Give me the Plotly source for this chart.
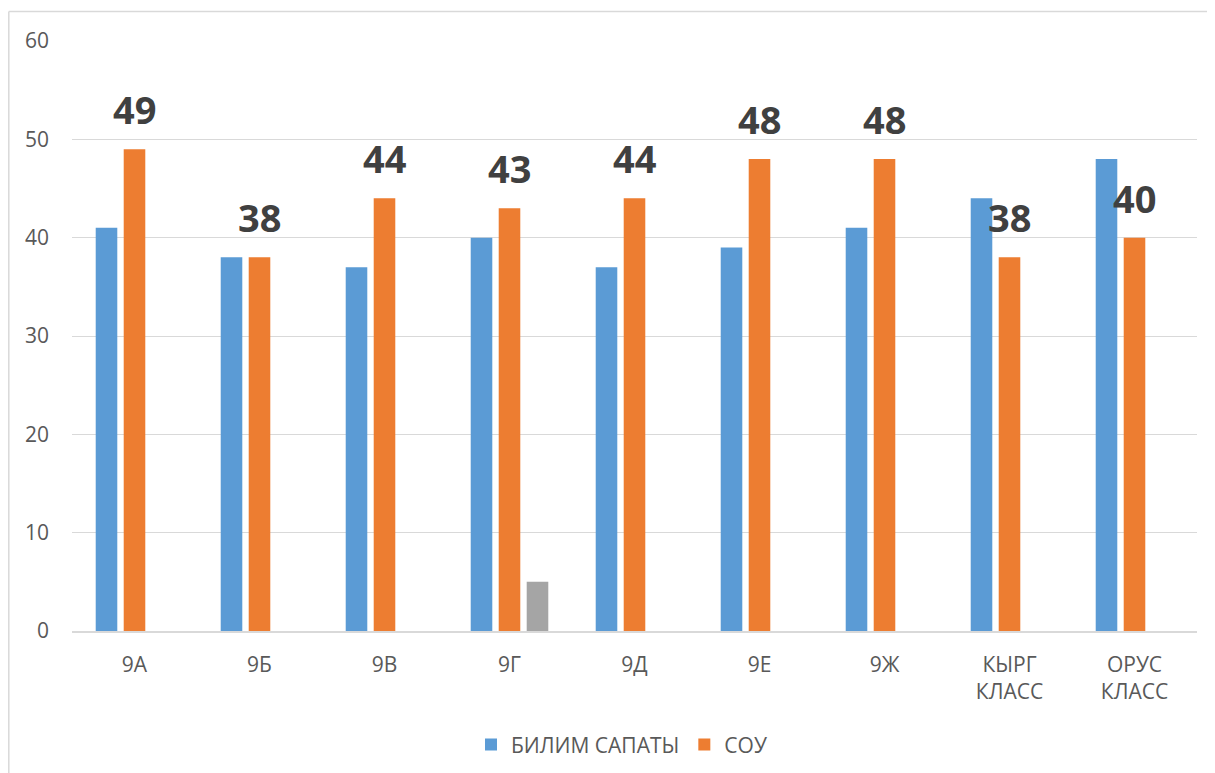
import plotly.graph_objects as go

categories = ["9А", "9Б", "9В", "9Г", "9Д", "9Е", "9Ж", "КЫРГ<br>КЛАСС", "ОРУС<br>КЛАСС"]
bilim_sapaty = [41, 38, 37, 40, 37, 39, 41, 44, 48]
sou = [49, 38, 44, 43, 44, 48, 48, 38, 40]
third_series = [None, None, None, 5, None, None, None, None, None]

series_names = ["БИЛИМ САПАТЫ", "СОУ", "Ряд 3"]
y_ticks = [0, 10, 20, 30, 40, 50, 60]

BLUE = "#5b9bd5"
ORANGE = "#ed7d31"
GRAY = "#a5a5a5"
TXT = "#595959"
FONT = "Open Sans"

fig = go.Figure()
fig.add_trace(go.Bar(x=categories, y=bilim_sapaty, name=series_names[0],
                     marker=dict(color=BLUE, line=dict(width=0))))
fig.add_trace(go.Bar(x=categories, y=sou, name=series_names[1],
                     marker=dict(color=ORANGE, line=dict(width=0))))
fig.add_trace(go.Bar(x=categories, y=third_series, name=series_names[2],
                     marker=dict(color=GRAY, line=dict(width=0)), showlegend=False))

for c, v in zip(categories, sou):
    fig.add_annotation(x=c, y=v, xref="x", yref="y", text=str(v), showarrow=False,
                       yanchor="bottom", yshift=12,
                       font=dict(family=FONT, size=38, color="#404040", weight="bold"))

# page body has an 8px margin, so the figure is sized/offset accordingly
W, H = 1207, 765
L, R, T, B = 64, 18, 33, 142
pw, ph = W - L - R, H - T - B
bx = (0.8 - L) / pw
by = (H - B - 3.5) / ph
fig.add_shape(type="line", xref="paper", yref="paper", x0=bx, x1=1.2, y0=by, y1=by,
              line=dict(color="#d9d9d9", width=1.5))
fig.add_shape(type="line", xref="paper", yref="paper", x0=bx, x1=bx, y0=by, y1=-0.4,
              line=dict(color="#d9d9d9", width=1.5))

fig.update_layout(
    width=W, height=H,
    margin=dict(l=L, r=R, t=T, b=B, autoexpand=False),
    paper_bgcolor="white", plot_bgcolor="white",
    barmode="group", bargap=0.328, bargroupgap=0.229,
    font=dict(family=FONT, size=21, color=TXT),
    showlegend=True,
    legend=dict(orientation="h", x=0.5 - 13 / pw, xanchor="center", y=-0.193, yanchor="middle",
                font=dict(family=FONT, size=21, color=TXT), traceorder="normal"),
)
fig.update_yaxes(range=[0, 60], tickvals=y_ticks, showgrid=True, gridcolor="#d9d9d9",
                 gridwidth=1, zeroline=False, showline=False, ticks="", automargin=False,
                 ticklabelstandoff=22, tickfont=dict(family=FONT, size=21, color=TXT))
fig.update_xaxes(showgrid=False, showline=True, linecolor="#d9d9d9", linewidth=1.5,
                 ticks="", automargin=False,
                 ticklabelstandoff=14, tickfont=dict(family=FONT, size=21, color=TXT))

fig.write_html("out.html")
